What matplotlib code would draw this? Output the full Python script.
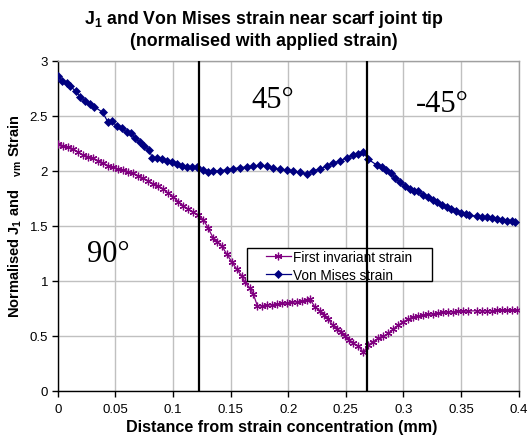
import matplotlib
matplotlib.use("Agg")
import matplotlib.pyplot as plt
from matplotlib.patches import Rectangle

plt.rcParams['font.family'] = ['Liberation Sans', 'DejaVu Sans']
plt.rcParams['mathtext.default'] = 'regular'

# Von Mises strain
vm_x = [0.0, 0.004, 0.0078, 0.0107, 0.0156, 0.0194, 0.0237, 0.028, 0.0318, 0.039,
        0.0434, 0.0474, 0.0512, 0.0555, 0.0599, 0.0636, 0.0671, 0.0714, 0.0752, 0.0795,
        0.0821, 0.086, 0.0902, 0.0946, 0.099, 0.1033, 0.1076, 0.112, 0.1163, 0.1206,
        0.1263, 0.1307, 0.135, 0.1408, 0.1466, 0.1524, 0.1582, 0.164, 0.1697, 0.1755,
        0.1813, 0.1871, 0.1929, 0.1987, 0.2044, 0.2102, 0.216, 0.2218, 0.2276, 0.2334,
        0.2391, 0.2449, 0.2508, 0.2565, 0.2608, 0.2652, 0.2695, 0.2768, 0.2811, 0.2849,
        0.2892, 0.2927, 0.297, 0.3014, 0.3057, 0.3092, 0.3129, 0.3167, 0.321, 0.3254,
        0.3289, 0.3332, 0.3375, 0.3413, 0.3456, 0.35, 0.3543, 0.3571, 0.3636, 0.3679,
        0.3722, 0.3766, 0.3809, 0.3853, 0.3896, 0.394, 0.3968]
vm_y = [2.858, 2.818, 2.797, 2.773, 2.722, 2.673, 2.637, 2.607, 2.582, 2.531,
        2.446, 2.449, 2.404, 2.386, 2.350, 2.343, 2.295, 2.259, 2.222, 2.192,
        2.113, 2.113, 2.107, 2.092, 2.077, 2.062, 2.046, 2.037, 2.031, 2.030,
        2.008, 1.992, 1.995, 2.001, 2.010, 2.019, 2.028, 2.035, 2.041, 2.050,
        2.041, 2.025, 2.013, 2.004, 1.998, 1.986, 1.971, 2.001, 2.016, 2.041,
        2.071, 2.089, 2.119, 2.143, 2.155, 2.170, 2.104, 2.053, 2.031, 2.007,
        1.977, 1.935, 1.895, 1.865, 1.835, 1.814, 1.820, 1.780, 1.759, 1.735,
        1.714, 1.689, 1.668, 1.653, 1.638, 1.617, 1.604, 1.598, 1.586, 1.580,
        1.577, 1.571, 1.562, 1.553, 1.547, 1.544, 1.538]

# First invariant strain
j1_x = [0.0005, 0.0049, 0.0092, 0.0135, 0.0179, 0.0222, 0.0266, 0.0309, 0.0352, 0.0396,
        0.0439, 0.0482, 0.0526, 0.0569, 0.0613, 0.0656, 0.07, 0.0743, 0.0786, 0.083,
        0.0873, 0.0916, 0.096, 0.1003, 0.1047, 0.109, 0.1133, 0.1177, 0.122, 0.1264,
        0.1307, 0.135, 0.1385, 0.1423, 0.1466, 0.151, 0.1553, 0.1597, 0.1625, 0.1669,
        0.1697, 0.1732, 0.177, 0.1813, 0.1857, 0.19, 0.1944, 0.1987, 0.203, 0.2074,
        0.2117, 0.216, 0.2189, 0.2233, 0.2276, 0.2311, 0.2348, 0.2386, 0.2421, 0.2456,
        0.2493, 0.253, 0.2565, 0.2608, 0.2652, 0.2695, 0.2738, 0.2782, 0.2825, 0.2869,
        0.2912, 0.2955, 0.2999, 0.3042, 0.3086, 0.3129, 0.3172, 0.3216, 0.3259, 0.3302,
        0.3346, 0.3389, 0.3433, 0.3476, 0.3519, 0.3563, 0.3636, 0.3679, 0.3722, 0.3766,
        0.3809, 0.3853, 0.3896, 0.394, 0.3983]
j1_y = [2.243, 2.228, 2.213, 2.198, 2.168, 2.143, 2.128, 2.113, 2.092, 2.071,
        2.046, 2.032, 2.016, 2.007, 1.992, 1.977, 1.955, 1.931, 1.910, 1.880,
        1.865, 1.835, 1.796, 1.765, 1.719, 1.683, 1.653, 1.623, 1.601, 1.556,
        1.478, 1.387, 1.356, 1.320, 1.244, 1.174, 1.108, 1.047, 0.987, 0.933,
        0.881, 0.775, 0.775, 0.781, 0.784, 0.790, 0.797, 0.799, 0.806, 0.811,
        0.820, 0.827, 0.836, 0.760, 0.729, 0.690, 0.654, 0.599, 0.563, 0.539,
        0.502, 0.463, 0.433, 0.411, 0.351, 0.418, 0.448, 0.479, 0.497, 0.524,
        0.563, 0.599, 0.629, 0.654, 0.669, 0.678, 0.687, 0.696, 0.702, 0.708,
        0.714, 0.717, 0.720, 0.723, 0.726, 0.726, 0.729, 0.729, 0.729, 0.729,
        0.732, 0.732, 0.732, 0.732, 0.732]

boundaries = [0.1226, 0.268]
region_labels = ["90°", "45°", "-45°"]
region_x = [0.0439, 0.1866, 0.3335]
region_y = [1.183, 2.577, 2.546]

x_ticks = [0, 0.05, 0.1, 0.15, 0.2, 0.25, 0.3, 0.35, 0.4]
x_tick_labels = ["0", "0.05", "0.1", "0.15", "0.2", "0.25", "0.3", "0.35", "0.4"]
y_ticks = [0, 0.5, 1, 1.5, 2, 2.5, 3]
y_tick_labels = ["0", "0.5", "1", "1.5", "2", "2.5", "3"]

W, H = 528, 439
fig = plt.figure(figsize=(W/100, H/100), dpi=100)
ax = fig.add_axes([57.7/W, 1-392/H, (518.7-57.7)/W, (392-61.7)/H])

ax.set_xlim(0, 0.4)
ax.set_ylim(0, 3)
ax.set_xticks(x_ticks)
ax.set_xticklabels(x_tick_labels)
ax.set_yticks(y_ticks)
ax.set_yticklabels(y_tick_labels)
ax.grid(True, color='#c0c0c0', linewidth=1.0)
ax.set_axisbelow(True)
ax.tick_params(direction='out', length=4, width=1, labelsize=9.5, color='black')
ax.tick_params(axis='x', pad=5)
ax.tick_params(axis='y', pad=3)

for s in ['top', 'right']:
    ax.spines[s].set_color('#a0a0a0')
    ax.spines[s].set_linewidth(1.0)
for s in ['left', 'bottom']:
    ax.spines[s].set_color('black')
    ax.spines[s].set_linewidth(1.0)

for b in boundaries:
    ax.axvline(b, color='black', linewidth=1.6, zorder=8)

ax.plot(j1_x, j1_y, color='#800080', linewidth=0.9, marker=(6, 2, 0),
        markersize=5.5, markeredgewidth=0.9, markeredgecolor='#800080',
        label='First invariant strain', zorder=3)
ax.plot(vm_x, vm_y, color='#000080', linewidth=0.9, marker='D',
        markersize=4.0, markeredgewidth=0.5, markerfacecolor='#000080',
        markeredgecolor='#000080', label='Von Mises strain', zorder=3)

for lab, xx, yy in zip(region_labels, region_x, region_y):
    ax.text(xx, yy, lab, ha='center', va='baseline', fontsize=22,
            family=['Liberation Serif', 'DejaVu Serif'], zorder=4)

# legend frame drawn manually (Excel style wide side padding)
lx0, lx1, ly0, ly1 = 246.7, 431.7, 249, 281.7
frame = Rectangle((lx0/W, 1-ly1/H), (lx1-lx0)/W, (ly1-ly0)/H,
                  transform=fig.transFigure, facecolor='white',
                  edgecolor='black', linewidth=1.0, zorder=5, clip_on=False)
ax.add_patch(frame)
leg = ax.legend(loc='upper left', bbox_to_anchor=(266/W, 1-250.5/H),
                bbox_transform=fig.transFigure, fontsize=9.8, frameon=False,
                borderaxespad=0, borderpad=0, handlelength=1.8,
                handletextpad=0.2, labelspacing=0.32)
leg.set_zorder(6)

fig.text(0.5, 1-19/H, "J$_1$ and Von Mises strain near scarf joint tip",
         ha='center', va='center', fontsize=12.8, fontweight='bold')
fig.text(0.5, 1-42/H, "(normalised with applied strain)",
         ha='center', va='center', fontsize=12.8, fontweight='bold')

ax.set_xlabel("Distance from strain concentration (mm)", fontsize=11.6, fontweight='bold')
ax.xaxis.set_label_coords((282-57.7)/461, -(428-392)/330.3)
ax.xaxis.label.set_va('center')
ax.set_ylabel("Normalised J$_1$ and $\\ \\ _{vm}$ Strain", fontsize=10.5, fontweight='bold')
ax.yaxis.set_label_coords(-(57.7-15)/461, (392-216)/330.3)
ax.yaxis.label.set_va('center')

fig.savefig("out.png", dpi=100)
